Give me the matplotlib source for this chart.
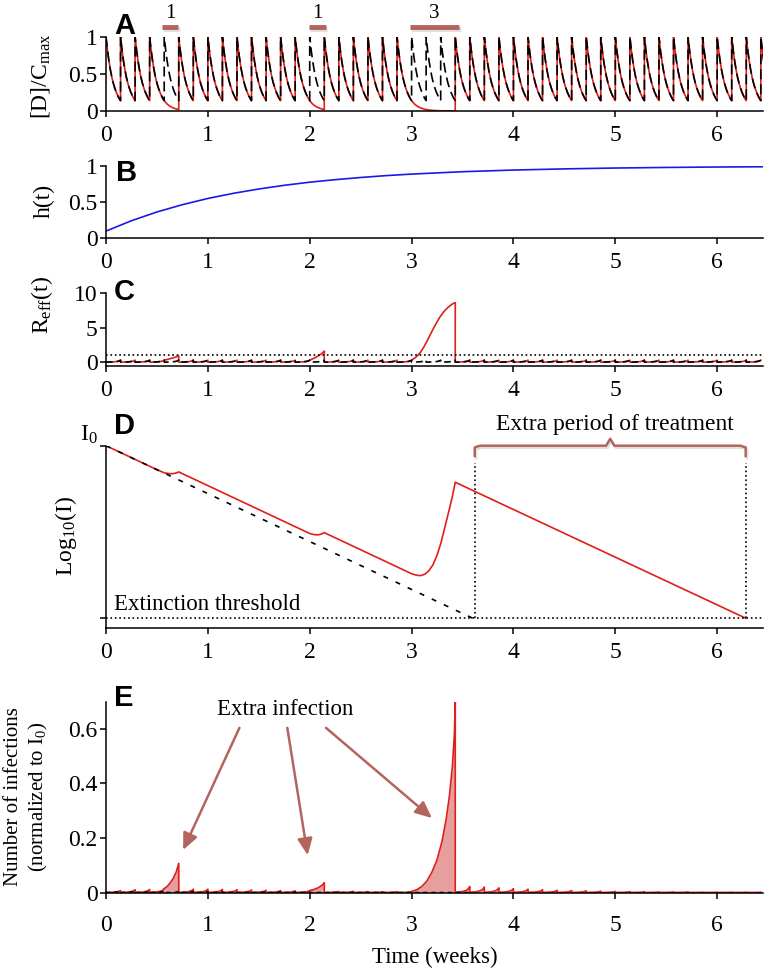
import numpy as np
import matplotlib
matplotlib.use("Agg")
import matplotlib.pyplot as plt
import matplotlib.patheffects as pe

plt.rcParams['font.family'] = ['Liberation Serif', 'DejaVu Serif']
plt.rcParams['mathtext.fontset'] = 'custom'
plt.rcParams['mathtext.rm'] = 'Liberation Serif'
plt.rcParams['mathtext.it'] = 'Liberation Serif:italic'

W, H = 766, 972

# ---- data ----
TAU = 1 / 7                      # daily dosing, in weeks
N_DOSES = 46
missed_doses = [4, 14, 21, 22, 23]
miss_bars = [(0.55, 0.71, "1"), (1.99, 2.16, "1"), (2.98, 3.47, "3")]

frac = [0.0, 0.1, 0.2, 0.3, 0.4, 0.5, 0.6, 0.7, 0.8, 0.9, 1.0]
conc_profile = [1.0, 0.82, 0.675, 0.555, 0.455, 0.375, 0.31, 0.255, 0.21, 0.17, 0.14]
trough = 0.14

h_t = [0, 0.25, 0.5, 0.75, 1, 1.25, 1.5, 1.75, 2, 2.25, 2.5, 2.75, 3, 3.5, 4, 4.5, 5, 5.5, 6, 6.5]
h_vals = [0.10, 0.243, 0.364, 0.465, 0.551, 0.622, 0.682, 0.733, 0.776, 0.811, 0.841,
          0.867, 0.888, 0.921, 0.944, 0.960, 0.972, 0.980, 0.986, 0.990]

reff_profile = [0.05, 0.06, 0.08, 0.10, 0.13, 0.17, 0.23, 0.31, 0.43, 0.62, 1.0]
reff_peaks = [0.3] * 45
reff_windows = {
    4: ([0.571, 0.6, 0.63, 0.66, 0.69, 0.714], [0.3, 0.4, 0.52, 0.64, 0.78, 0.92], 1),
    14: ([2.0, 2.03, 2.06, 2.09, 2.12, 2.143], [0.3, 0.5, 0.72, 0.98, 1.28, 1.62], 1),
    21: ([3.0, 3.04, 3.08, 3.12, 3.16, 3.2, 3.24, 3.28, 3.32, 3.36, 3.4, 3.429],
         [0.3, 0.7, 1.3, 2.2, 3.3, 4.5, 5.6, 6.6, 7.4, 8.0, 8.45, 8.65], 3),
}

logI_t = [0, 0.5, 0.571, 0.62, 0.66, 0.69, 0.714, 2.0, 2.04, 2.08, 2.11, 2.143, 3.0,
          3.05, 3.09, 3.13, 3.17, 3.21, 3.25, 3.29, 3.33, 3.37, 3.40, 3.429, 6.28]
logI_red = [0, -1.39, -1.57, -1.62, -1.62, -1.58, -1.52, -5.09, -5.15, -5.17, -5.13, -5.04, -7.42,
            -7.51, -7.53, -7.45, -7.25, -6.9, -6.35, -5.6, -4.65, -3.7, -2.95, -2.12, -10.0]
logI_black_t = [0, 3.6]
logI_black = [0, -10.0]
threshold = -10.0
extra_start, extra_end = 3.62, 6.28

inf_peaks = [0.007, 0.010, 0.011, 0.014, 0, 0.012, 0.012, 0.011, 0.010, 0.009, 0.008, 0.007,
             0.006, 0.007, 0, 0.004, 0.004, 0.003, 0.003, 0.003, 0.003, 0, 0, 0, 0.022, 0.020,
             0.017, 0.014, 0.012, 0.010, 0.008, 0.007, 0.006, 0.005, 0.004, 0.003, 0.003, 0.002,
             0.002, 0.002, 0.001, 0.001, 0.001, 0.001, 0.001]
inf_windows = {
    4: ([0.571, 0.6, 0.63, 0.66, 0.69, 0.714], [0.014, 0.022, 0.035, 0.052, 0.076, 0.107], 1),
    14: ([2.0, 2.04, 2.07, 2.1, 2.125, 2.143], [0.007, 0.011, 0.015, 0.021, 0.028, 0.036], 1),
    21: ([3.0, 3.05, 3.1, 3.15, 3.2, 3.25, 3.3, 3.34, 3.37, 3.4, 3.42, 3.429],
         [0.004, 0.01, 0.022, 0.042, 0.075, 0.12, 0.19, 0.27, 0.35, 0.46, 0.58, 0.7], 3),
}
inf_black_peaks = [0.006, 0.006, 0.005, 0.005, 0.004, 0.004, 0.0035, 0.003, 0.003, 0.0025,
                   0.0025, 0.002, 0.002, 0.0018, 0.0015, 0.0013, 0.0012, 0.001, 0.001, 0.0008,
                   0.0007, 0.0006, 0.0005, 0.0004, 0.0003]

RED = '#e01e1a'
BROWN = '#b4645f'
FILL = '#e79e9e'


def build_saw(peaks, profile, windows):
    ts, ys = [], []
    k = 0
    while k < len(peaks):
        if k in windows:
            wt, wy, span = windows[k]
            ts += list(wt)
            ys += list(wy)
            k += span
            continue
        ts += [(k + f) * TAU for f in frac]
        ys += [p * peaks[k] for p in profile]
        k += 1
    return np.array(ts), np.array(ys)


def build_conc(doses):
    ts, ys = [], []
    for i, k in enumerate(doses):
        gap = doses[i + 1] - k if i + 1 < len(doses) else 1
        for j in range(gap):
            ts += [(k + j + f) * TAU for f in frac]
            ys += [c * trough ** j for c in conc_profile]
    return np.array(ts), np.array(ys)


def px_axes(top, bottom, left=106, right=763):
    return fig.add_axes([left / W, 1 - bottom / H, (right - left) / W, (bottom - top) / H])


def style(ax, xpad=6):
    for s in ['top', 'right']:
        ax.spines[s].set_visible(False)
    for s in ['left', 'bottom']:
        ax.spines[s].set_linewidth(1.1)
    ax.set_xlim(0, 6.45)
    ax.set_xticks(range(7))
    ax.tick_params(axis='both', labelsize=17, length=4, width=1.1, direction='out')
    ax.tick_params(axis='x', pad=xpad)
    ax.tick_params(axis='y', pad=2)


def ylab(x, y, s, size=17, **kw):
    fig.text(x / W, 1 - y / H, s, rotation=90, ha='center', va='center', fontsize=size, **kw)


def panel(x, y, s):
    fig.text(x / W, 1 - y / H, s, fontsize=21, fontweight='bold', family='Liberation Sans',
             ha='left', va='top')


fig = plt.figure(figsize=(W / 100, H / 100), dpi=100)
shadow = [pe.SimpleLineShadow(offset=(1, -1.5), shadow_color='gray', alpha=0.25), pe.Normal()]

# ---- A: drug concentration ----
axA = px_axes(36.7, 111)
style(axA)
taken = [k for k in range(N_DOSES) if k not in missed_doses]
tr, cr = build_conc(taken)
tb, cb = build_conc(list(range(N_DOSES)))
axA.plot(tr, cr, color=RED, lw=1.2)
axA.plot(tb, cb, color='black', lw=1.2, ls=(0, (6, 3)))
axA.set_ylim(0, 1)
axA.set_yticks([0, 0.5, 1])
axA.set_yticklabels(['0', '0.5', '1'])
for x0, x1, lab in miss_bars:
    axA.plot([x0, x1], [1.135, 1.135], color=BROWN, lw=3.5, clip_on=False,
             solid_capstyle='butt', path_effects=shadow)
    axA.text((x0 + x1) / 2, 1.31, lab, ha='center', va='center', fontsize=15)
ylab(40, 76, r'[D]/C$_{\mathrm{max}}$')
panel(114, 12, 'A')

# ---- B: h(t) ----
axB = px_axes(166, 238.3)
style(axB)
axB.plot(h_t, h_vals, color='#1a1ae6', lw=1.2)
axB.set_ylim(0, 1)
axB.set_yticks([0, 0.5, 1])
axB.set_yticklabels(['0', '0.5', '1'])
ylab(44, 201, 'h(t)')
panel(116, 159, 'B')

# ---- C: R_eff ----
axC = px_axes(293.3, 365.7)
style(axC)
trc, rr = build_saw(reff_peaks, reff_profile, reff_windows)
tbc, rb = build_saw(reff_peaks, reff_profile, {})
axC.plot(trc, rr, color=RED, lw=1.2)
axC.plot(tbc, rb, color='black', lw=1.2, ls=(0, (4, 2.5)))
axC.axhline(1, color='black', lw=1.2, ls=':')
axC.set_ylim(-0.5, 10)
axC.set_yticks([0, 5, 10])
ylab(42, 305, r'R$_{\mathrm{eff}}$(t)')
panel(114, 278, 'C')

# ---- D: log10(I) ----
axD = px_axes(445.7, 627.7)
style(axD)
axD.plot(logI_t, logI_red, color=RED, lw=1.2)
axD.plot(logI_black_t, logI_black, color='black', lw=1.2, ls=(0, (3, 5)))
axD.axhline(threshold, color='black', lw=1.2, ls=':')
for xv in (extra_start, extra_end):
    axD.plot([xv, xv], [threshold, -1.0], color='black', lw=1.2, ls=':')
axD.set_ylim(-10.55, 0)
axD.set_yticks([threshold, 0])
axD.set_yticklabels(['', r'I$_0$'])
axD.get_yticklabels()[1].set_va('bottom')
axD.text(0.08, -9.2, 'Extinction threshold', fontsize=16.5, ha='left', va='center')
mid = (extra_start + extra_end) / 2
bx = [extra_start, extra_start, extra_start + 0.05, mid - 0.04, mid, mid + 0.04, extra_end - 0.05, extra_end, extra_end]
by = [-0.6, -0.1, 0, 0, 0.4, 0, 0, -0.1, -0.6]
axD.plot(bx, by, color=BROWN, lw=1.8, clip_on=False, path_effects=shadow)
axD.text(mid + 0.05, 1.25, 'Extra period of treatment', fontsize=17,
         ha='center', va='center')
ylab(66, 536, r'Log$_{10}$(I)')
panel(114, 412, 'D')

# ---- E: new infections ----
axE = px_axes(701.7, 892.5)
style(axE, xpad=12)
te, ye = build_saw(inf_peaks, reff_profile, inf_windows)
teb, yeb = build_saw(inf_black_peaks, reff_profile, {})
axE.fill_between(te, ye, 0, color=FILL, lw=0)
axE.plot(te, ye, color=RED, lw=1.2)
axE.plot(teb, yeb, color='black', lw=1.0, ls=(0, (3, 3)))
axE.set_ylim(0, 0.7)
axE.set_yticks([0, 0.2, 0.4, 0.6])
axE.set_yticklabels(['0', '0.2', '0.4', '0.6'])
axE.text(1.76, 0.67, 'Extra infection', fontsize=16.5, ha='center', va='center')
for (x0, y0), (x1, y1) in [((1.31, 0.604), (0.757, 0.156)),
                           ((1.78, 0.604), (1.98, 0.137)),
                           ((2.16, 0.604), (3.20, 0.273))]:
    axE.annotate('', xy=(x1, y1), xytext=(x0, y0),
                 arrowprops=dict(arrowstyle='-|>,head_length=1.0,head_width=0.45',
                                 color=BROWN, lw=1.8, shrinkA=0, shrinkB=0))
axE.set_xlabel('Time (weeks)', fontsize=16.5, labelpad=8)
ylab(27, 797, 'Number of infections\n(normalized to I$_0$)', size=15, linespacing=1.3)
panel(114, 684, 'E')

fig.savefig('out.png', dpi=100)
